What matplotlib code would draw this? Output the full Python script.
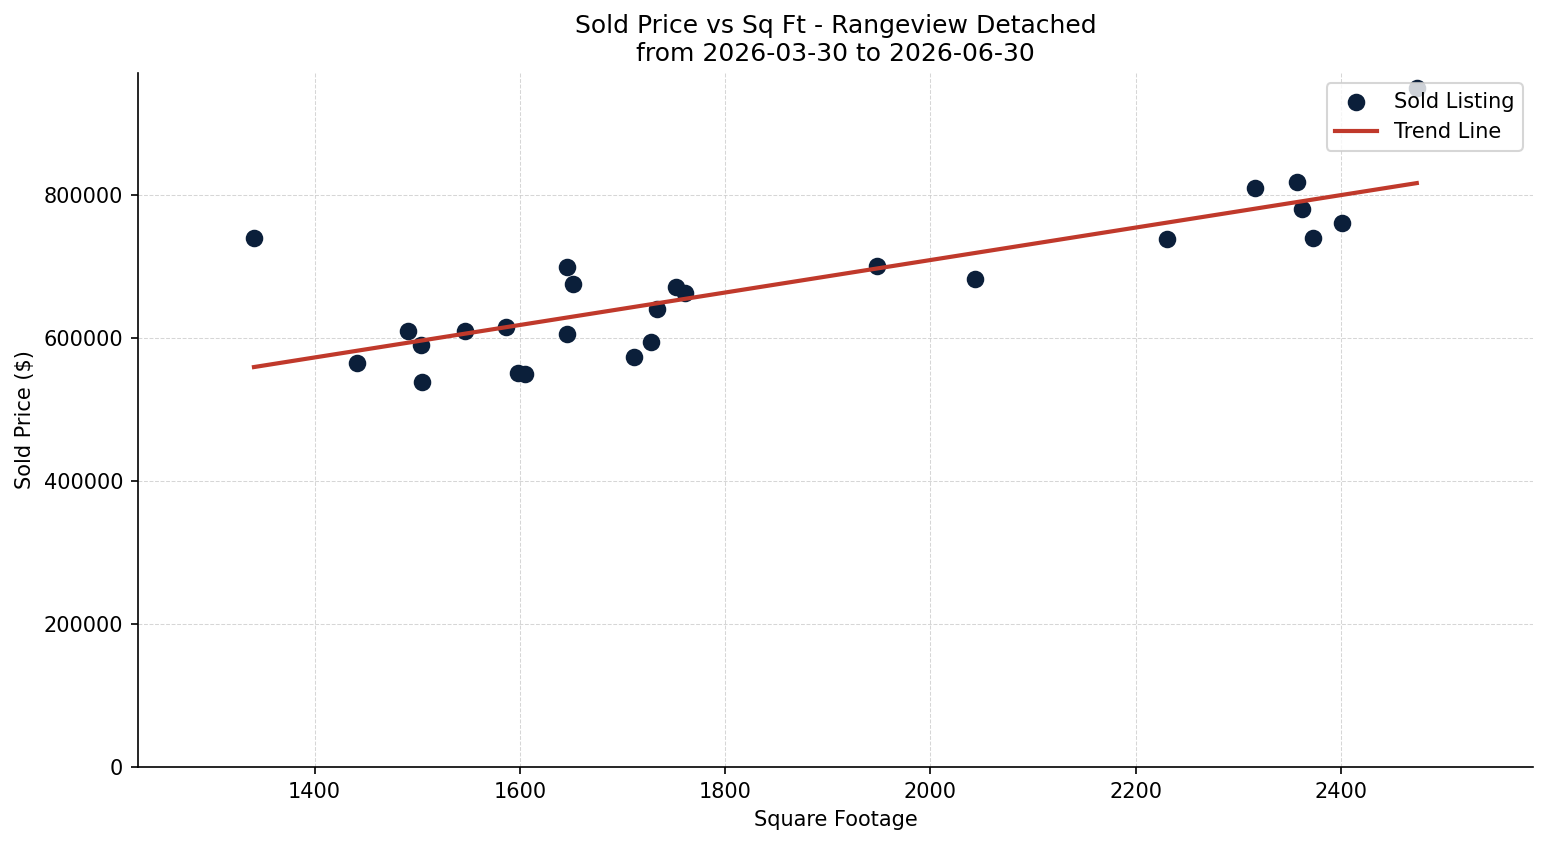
import numpy as np
import matplotlib
matplotlib.use("Agg")
import matplotlib.pyplot as plt

# sold listings
sqft = [1341, 1441, 1491, 1504, 1505, 1547, 1587, 1598, 1605, 1646, 1646,
        1652, 1711, 1728, 1734, 1752, 1761, 1948, 2044, 2231, 2316, 2357,
        2362, 2373, 2401, 2474]
price = [740000, 565000, 610000, 590000, 538000, 610000, 615000, 551000,
         550000, 699000, 605000, 675000, 574000, 595000, 640000, 671000,
         663000, 700000, 682000, 738000, 810000, 818000, 780000, 740000,
         761000, 950000]

title = "Sold Price vs Sq Ft - Rangeview Detached\nfrom 2026-03-30 to 2026-06-30"

x = np.array(sqft)
y = np.array(price)
slope, intercept = np.polyfit(x, y, 1)
xs = np.array([x.min(), x.max()])

fig, ax = plt.subplots(figsize=(1547 / 150, 845 / 150), dpi=150)
fig.subplots_adjust(left=0.089, right=0.991, top=0.9136, bottom=0.0923)

ax.scatter(x, y, s=55, color="#0b1f3a", label="Sold Listing", zorder=3)
ax.plot(xs, slope * xs + intercept, color="#c0392b", linewidth=2,
        label="Trend Line", zorder=4)

ax.margins(x=0.1)
ax.set_ylim(bottom=0)
ax.set_title(title)
ax.set_xlabel("Square Footage")
ax.set_ylabel("Sold Price ($)")
ax.ticklabel_format(style="plain", axis="y")
ax.grid(True, linestyle="--", linewidth=0.5, color="#cccccc", alpha=0.8)
ax.set_axisbelow(True)
ax.spines["top"].set_visible(False)
ax.spines["right"].set_visible(False)
ax.legend(loc="upper right")

plt.savefig("out.png")
